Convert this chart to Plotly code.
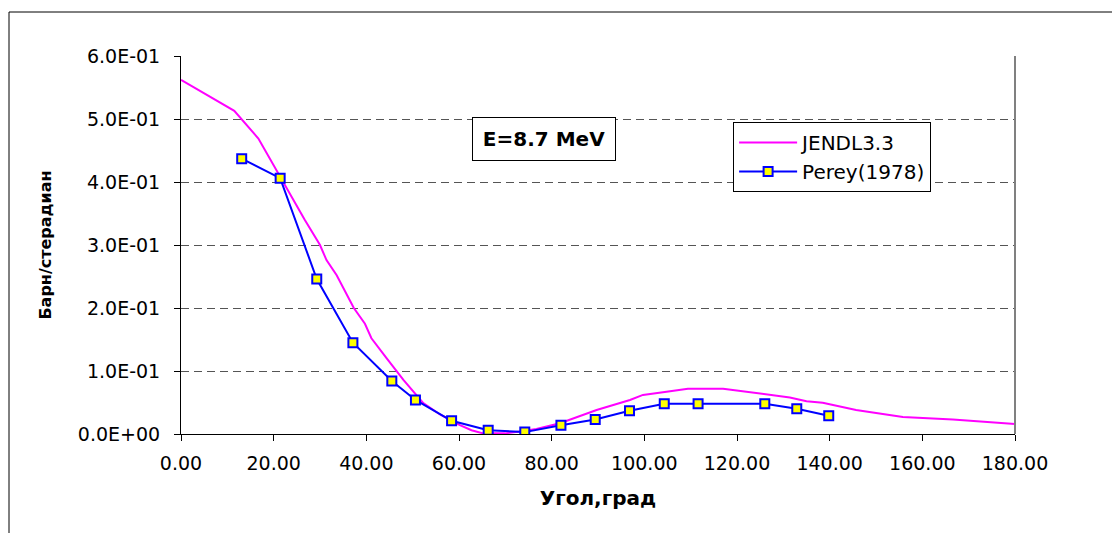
import plotly.graph_objects as go

# JENDL3.3 evaluated curve
jendl_angle = [0, 11.5, 16.7, 20.8, 26.7, 30.0, 31.4, 33.6, 37.3, 39.7, 41.1, 44.4, 48.0, 52.3,
               55.9, 60.2, 62.7, 65.2, 69.9, 73.1, 76.7, 81.8, 89.7, 96.9, 99.7, 104.8, 109.4,
               117.0, 122.4, 131.4, 135.0, 138.5, 145.7, 155.8, 166.6, 180.0]
jendl_xs = [0.562, 0.513, 0.469, 0.416, 0.340, 0.300, 0.276, 0.252, 0.200, 0.175, 0.152, 0.120, 0.086, 0.049,
            0.031, 0.014, 0.006, 0.001, 0.001, 0.004, 0.008, 0.017, 0.038, 0.054, 0.062, 0.067, 0.072,
            0.072, 0.067, 0.058, 0.052, 0.0497, 0.038, 0.027, 0.023, 0.016]

# Perey (1978) experimental points
perey_angle = [13.1, 21.4, 29.3, 37.1, 45.5, 50.6, 58.4, 66.3, 74.2, 82.0, 89.4, 96.8, 104.3,
               111.6, 126.0, 132.9, 139.8]
perey_xs = [0.437, 0.406, 0.246, 0.145, 0.084, 0.054, 0.021, 0.006, 0.003, 0.014, 0.023, 0.037, 0.048,
            0.048, 0.048, 0.040, 0.029]

y_tickvals = [0.0, 0.1, 0.2, 0.3, 0.4, 0.5, 0.6]
y_ticktext = ["0.0E+00", "1.0E-01", "2.0E-01", "3.0E-01", "4.0E-01", "5.0E-01", "6.0E-01"]
x_tickvals = [0, 20, 40, 60, 80, 100, 120, 140, 160, 180]

FONT = "DejaVu Sans"

fig = go.Figure()
fig.add_trace(go.Scatter(x=jendl_angle, y=jendl_xs, mode="lines", name="JENDL3.3",
                         line=dict(color="#FF00FF", width=2), legendgroup="a"))
fig.add_trace(go.Scatter(x=perey_angle, y=perey_xs, mode="lines+markers", name="Perey(1978)",
                         line=dict(color="#0000FF", width=2),
                         marker=dict(symbol="square", size=9, color="#FFFF00",
                                     line=dict(color="#0000FF", width=2)),
                         legendgroup="b"))

# page body has an 8px margin: figure occupies page pixels 8..1120 x 8..533
fig.update_layout(
    width=1112, height=525,
    margin=dict(l=173, r=105, t=48, b=99),
    paper_bgcolor="white", plot_bgcolor="white",
    font=dict(family=FONT, color="black"),
    showlegend=True,
    legend=dict(x=0.662, y=0.8254, xanchor="left", yanchor="top",
                bordercolor="black", borderwidth=1, bgcolor="white",
                font=dict(family=FONT, size=20), tracegroupgap=0, itemwidth=58),
    xaxis=dict(range=[0, 180], tickvals=x_tickvals, tickformat=".2f",
               showline=True, linecolor="black", linewidth=1,
               ticks="outside", ticklen=6, tickcolor="black",
               showgrid=False, zeroline=False, ticklabelstandoff=6,
               tickfont=dict(family=FONT, size=19),
               title=dict(text="<b>Угол,град</b>", font=dict(family=FONT, size=20), standoff=18)),
    yaxis=dict(range=[0, 0.6], tickvals=y_tickvals, ticktext=y_ticktext,
               showline=True, linecolor="black", linewidth=1,
               ticks="outside", ticklen=6, tickcolor="black",
               showgrid=True, gridcolor="#555555", griddash="8px,5px", gridwidth=1,
               zeroline=False, ticklabelstandoff=10,
               tickfont=dict(family=FONT, size=19),
               title=dict(text="<b>Барн/стерадиан</b>", font=dict(family=FONT, size=16), standoff=22)),
)

# annotation box
fig.add_annotation(xref="paper", yref="paper", x=0.4353, y=0.7804,
                   xanchor="center", yanchor="middle",
                   text="<b>E=8.7 MeV</b>", showarrow=False,
                   font=dict(family=FONT, size=20, color="black"),
                   bordercolor="black", borderwidth=1, borderpad=9,
                   width=124, height=24, bgcolor="white")

# right border of plot area (gray)
fig.add_shape(type="line", xref="paper", yref="paper", x0=1, x1=1, y0=0, y1=1,
              line=dict(color="#808080", width=2))

# outer chart frame
fig.add_shape(type="rect", xref="paper", yref="paper",
              x0=(9 - 181) / 834, x1=(1140 - 181) / 834,
              y0=(434 - 560) / 378, y1=(434 - 12) / 378,
              line=dict(color="black", width=1), layer="below")

fig.write_html("out.html")
